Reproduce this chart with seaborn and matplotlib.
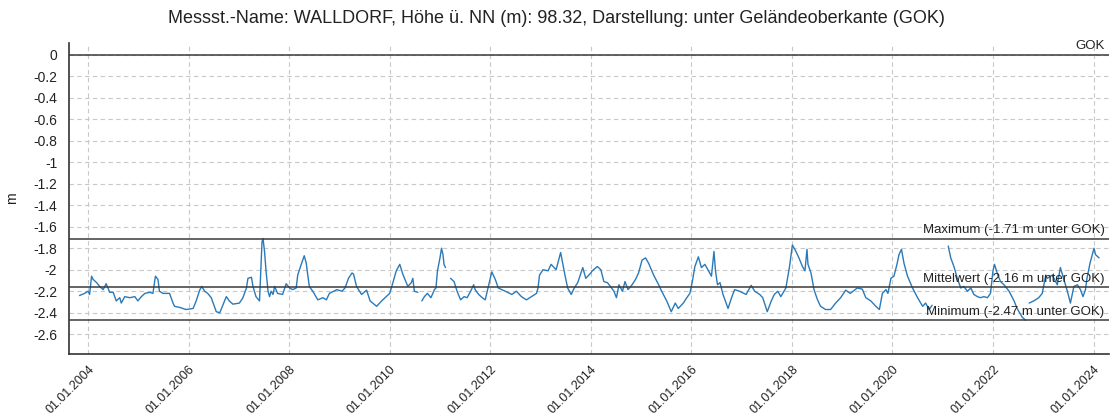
import numpy as np
import pandas as pd
import matplotlib
matplotlib.use('Agg')
import matplotlib.pyplot as plt
import matplotlib.dates as mdates
from matplotlib.ticker import FuncFormatter, MultipleLocator
import seaborn as sns

# groundwater level WALLDORF (decimal year, m below GOK), nan = gap
years = [
    2003.83, 2003.93, 2004.00, 2004.03, 2004.07, 2004.10, 2004.17, 2004.23, 2004.30, 2004.36,
    2004.43, 2004.50, 2004.56, 2004.63, 2004.66, 2004.73, 2004.83, 2004.93, 2004.99, 2005.06,
    2005.13, 2005.23, 2005.29, 2005.34, 2005.39, 2005.42, 2005.49, 2005.62, 2005.69, 2005.72,
    2005.82, 2005.95, 2006.09, 2006.15, 2006.22, 2006.26, 2006.32, 2006.38, 2006.45, 2006.55,
    2006.62, 2006.68, 2006.75, 2006.81, 2006.88, 2007.01, 2007.08, 2007.15, 2007.18, 2007.25,
    2007.28, 2007.34, 2007.41, 2007.46, 2007.48, 2007.51, 2007.54, 2007.58, 2007.61, 2007.64,
    2007.68, 2007.71, 2007.77, 2007.87, 2007.94, 2008.01, 2008.07, 2008.14, 2008.17, 2008.24,
    2008.30, 2008.34, 2008.40, 2008.47, 2008.57, 2008.67, 2008.74, 2008.80, 2008.95, 2009.05,
    2009.11, 2009.18, 2009.25, 2009.28, 2009.34, 2009.44, 2009.54, 2009.61, 2009.74, 2009.84,
    2009.93, 2010.00, 2010.07, 2010.13, 2010.20, 2010.26, 2010.36, 2010.43, 2010.46, 2010.49,
    2010.56, 2010.60, 2010.64, 2010.69, 2010.75, 2010.82, 2010.89, 2010.92, 2010.95, 2011.00,
    2011.03, 2011.06, 2011.08, 2011.11, 2011.16, 2011.21, 2011.28, 2011.34, 2011.41, 2011.48,
    2011.54, 2011.61, 2011.67, 2011.70, 2011.77, 2011.84, 2011.90, 2011.97, 2012.03, 2012.10,
    2012.16, 2012.30, 2012.43, 2012.52, 2012.62, 2012.72, 2012.82, 2012.92, 2012.95, 2012.98,
    2013.05, 2013.15, 2013.21, 2013.31, 2013.40, 2013.44, 2013.49, 2013.54, 2013.61, 2013.67,
    2013.74, 2013.84, 2013.90, 2014.00, 2014.03, 2014.13, 2014.20, 2014.26, 2014.33, 2014.39,
    2014.46, 2014.51, 2014.56, 2014.63, 2014.68, 2014.74, 2014.82, 2014.89, 2014.95, 2015.02,
    2015.09, 2015.15, 2015.25, 2015.35, 2015.41, 2015.51, 2015.60, 2015.68, 2015.74, 2015.84,
    2015.91, 2015.97, 2016.02, 2016.07, 2016.14, 2016.20, 2016.27, 2016.34, 2016.40, 2016.45,
    2016.48, 2016.52, 2016.57, 2016.63, 2016.73, 2016.80, 2016.86, 2016.96, 2017.09, 2017.19,
    2017.26, 2017.36, 2017.42, 2017.51, 2017.59, 2017.65, 2017.72, 2017.78, 2017.88, 2017.95,
    2018.01, 2018.08, 2018.14, 2018.21, 2018.26, 2018.30, 2018.32, 2018.38, 2018.44, 2018.51,
    2018.57, 2018.67, 2018.77, 2018.87, 2018.97, 2019.07, 2019.16, 2019.30, 2019.40, 2019.47,
    2019.57, 2019.67, 2019.74, 2019.80, 2019.87, 2019.91, 2019.97, 2020.03, 2020.09, 2020.13,
    2020.18, 2020.23, 2020.30, 2020.40, 2020.50, 2020.60, 2020.66, 2020.73, 2020.79, 2020.95,
    2021.11, 2021.16, 2021.23, 2021.29, 2021.36, 2021.42, 2021.49, 2021.56, 2021.62, 2021.69,
    2021.75, 2021.82, 2021.89, 2021.95, 2022.00, 2022.03, 2022.09, 2022.15, 2022.22, 2022.32,
    2022.42, 2022.48, 2022.58, 2022.65, 2022.68, 2022.72, 2022.81, 2022.91, 2022.98, 2023.05,
    2023.08, 2023.18, 2023.28, 2023.34, 2023.41, 2023.48, 2023.54, 2023.61, 2023.68, 2023.74,
    2023.79, 2023.84, 2023.87, 2023.93, 2023.97, 2024.01, 2024.04, 2024.11,
]
level = [
    -2.24, -2.22, -2.20, -2.23, -2.06, -2.09, -2.12, -2.155, -2.185, -2.13,
    -2.21, -2.21, -2.29, -2.26, -2.31, -2.25, -2.26, -2.25, -2.29, -2.25,
    -2.22, -2.21, -2.22, -2.06, -2.09, -2.20, -2.22, -2.22, -2.31, -2.34,
    -2.35, -2.37, -2.36, -2.29, -2.19, -2.155, -2.20, -2.22, -2.26, -2.39,
    -2.40, -2.33, -2.25, -2.29, -2.32, -2.31, -2.26, -2.17, -2.08, -2.07,
    -2.155, -2.25, -2.29, -1.74, -1.71, -1.83, -2.01, -2.20, -2.25, -2.20,
    -2.23, -2.155, -2.22, -2.23, -2.13, -2.17, -2.185, -2.17, -2.05, -1.95,
    -1.87, -1.94, -2.155, -2.20, -2.28, -2.26, -2.28, -2.22, -2.185, -2.20,
    -2.17, -2.08, -2.03, -2.04, -2.155, -2.23, -2.19, -2.29, -2.34, -2.29,
    -2.25, -2.22, -2.11, -2.01, -1.95, -2.04, -2.155, -2.12, -2.08, -2.20,
    -2.21, np.nan, -2.29, -2.25, -2.22, -2.26, -2.185, -2.17, -2.01, -1.89,
    -1.80, -1.86, -1.95, -1.98, np.nan, -2.08, -2.11, -2.20, -2.28, -2.25,
    -2.26, -2.20, -2.14, -2.185, -2.23, -2.26, -2.28, -2.14, -2.02, -2.09,
    -2.17, -2.20, -2.23, -2.20, -2.25, -2.28, -2.25, -2.22, -2.17, -2.05,
    -2.00, -2.01, -1.95, -2.00, -1.84, -1.94, -2.06, -2.17, -2.23, -2.17,
    -2.12, -1.98, -2.08, -2.03, -2.01, -1.97, -2.00, -2.11, -2.12, -2.155,
    -2.20, -2.26, -2.14, -2.20, -2.11, -2.185, -2.14, -2.09, -2.03, -1.91,
    -1.89, -1.94, -2.05, -2.14, -2.20, -2.29, -2.39, -2.31, -2.36, -2.31,
    -2.26, -2.22, -2.11, -1.97, -1.88, -1.98, -1.95, -2.01, -2.06, -1.83,
    -2.01, -2.14, -2.12, -2.23, -2.36, -2.26, -2.185, -2.20, -2.23, -2.145,
    -2.20, -2.23, -2.26, -2.39, -2.29, -2.23, -2.20, -2.25, -2.17, -1.98,
    -1.77, -1.83, -1.89, -1.97, -2.01, -1.81, -1.95, -2.03, -2.185, -2.28,
    -2.34, -2.37, -2.37, -2.31, -2.26, -2.19, -2.22, -2.17, -2.18, -2.26,
    -2.29, -2.34, -2.37, -2.22, -2.185, -2.22, -2.08, -2.06, -1.95, -1.86,
    -1.81, -1.94, -2.06, -2.17, -2.26, -2.34, -2.31, -2.37, -2.33, np.nan,
    -1.78, -1.89, -1.98, -2.08, -2.17, -2.155, -2.20, -2.17, -2.23, -2.25,
    -2.26, -2.25, -2.26, -2.22, -2.01, -1.95, -2.04, -2.11, -2.14, -2.20,
    -2.29, -2.36, -2.44, -2.47, np.nan, -2.31, -2.29, -2.26, -2.22, -2.05,
    -2.08, -2.05, -2.14, -1.98, -2.09, -2.20, -2.31, -2.155, -2.14, -2.185,
    -2.25, -2.185, -2.08, -1.94, -1.87, -1.80, -1.86, -1.89,
]

ref_names = ['GOK', 'Maximum (-1.71 m unter GOK)', 'Mittelwert (-2.16 m unter GOK)', 'Minimum (-2.47 m unter GOK)']
ref_values = [0.0, -1.71, -2.16, -2.47]

title = 'Messst.-Name: WALLDORF, Höhe ü. NN (m): 98.32, Darstellung: unter Geländeoberkante (GOK)'

df = pd.DataFrame({'year': years, 'level': level})
df['date'] = pd.Timestamp('2000-01-01') + pd.to_timedelta((df['year'] - 2000) * 365.25, unit='D')
df['seg'] = df['level'].isna().cumsum()
df = df.dropna()

sns.set_style('white')
plt.rcParams['font.family'] = ['Liberation Sans', 'DejaVu Sans']
plt.rcParams['axes.unicode_minus'] = False

fig = plt.figure(figsize=(11.12, 4.19), dpi=100)
ax = fig.add_axes([0.062, 0.156, 0.935, 0.742])

sns.lineplot(data=df, x='date', y='level', units='seg', estimator=None,
             color='#2a7ab9', linewidth=1.0, ax=ax)

# reference lines with labels at the right end
for name, val in zip(ref_names, ref_values):
    ax.axhline(val, color='#3a3a3a', linewidth=1.1, zorder=3)
    ax.annotate(name, xy=(1.0, val), xycoords=('axes fraction', 'data'),
                xytext=(-3, 1.5), textcoords='offset points',
                ha='right', va='bottom', fontsize=9.5, color='#222222')

ax.set_xlim(pd.Timestamp('2003-08-15'), pd.Timestamp('2024-04-20'))
ax.set_ylim(-2.78, 0.11)

ax.xaxis.set_major_locator(mdates.YearLocator(2))
ax.xaxis.set_major_formatter(mdates.DateFormatter('%d.%m.%Y'))
ax.yaxis.set_major_locator(MultipleLocator(0.2))
ax.yaxis.set_major_formatter(FuncFormatter(lambda v, p: '%g' % round(v, 2)))

ax.grid(True, linestyle=(0, (4, 3)), color='#c8c8c8', linewidth=0.8)
ax.set_axisbelow(True)

for s in ['top', 'right']:
    ax.spines[s].set_visible(False)
for s in ['left', 'bottom']:
    ax.spines[s].set_color('#333333')
    ax.spines[s].set_linewidth(1.2)

ax.tick_params(axis='both', direction='out', length=5, width=1, color='#333333',
               labelsize=10, labelcolor='#222222')
ax.tick_params(axis='x', labelsize=9, pad=2)
plt.setp(ax.get_xticklabels(), rotation=45, ha='right', rotation_mode='anchor')

ax.set_xlabel('')
ax.set_ylabel('m', fontsize=10, color='#222222')
ax.yaxis.set_label_coords(-0.048, 0.5)

fig.suptitle(title, y=0.957, va='center', fontsize=13, color='#222222')

fig.savefig('out.png', dpi=100)
